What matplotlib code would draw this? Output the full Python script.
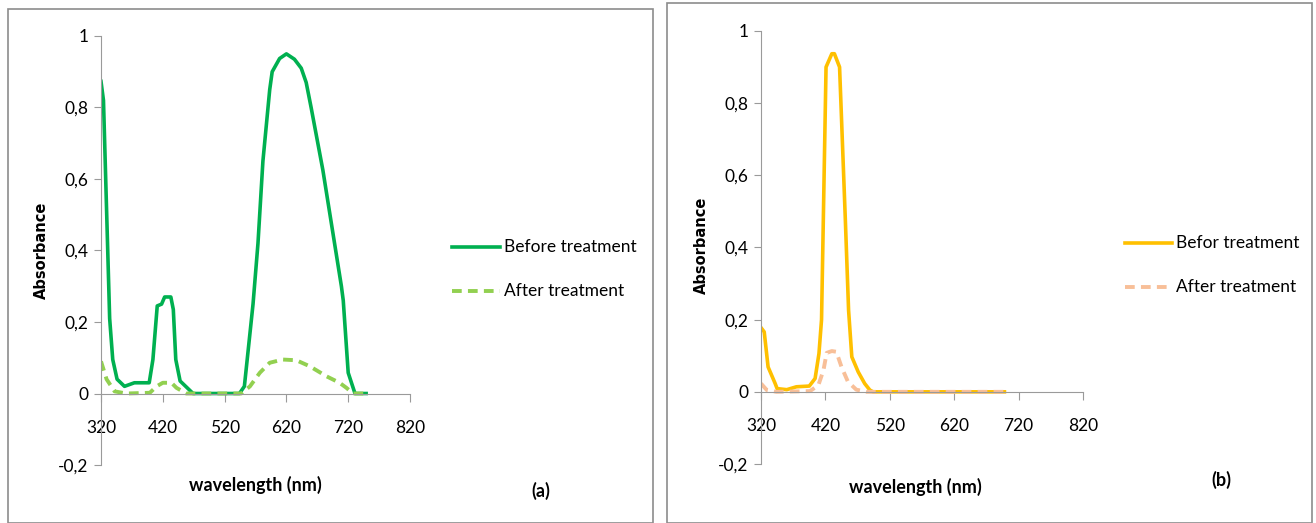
import matplotlib.pyplot as plt
from matplotlib.patches import Rectangle

plt.rcParams['font.family'] = ['Lato', 'DejaVu Sans']

# panel (a)
wl_a_before = [320, 324, 334, 339, 346, 358, 374, 398, 404, 411, 418, 423, 433, 437, 441, 448, 469,
               544, 552, 566, 574, 582, 593, 597, 609, 620, 633, 644, 652, 660, 679, 709, 712, 720, 731, 749]
abs_a_before = [0.873, 0.82, 0.21, 0.095, 0.04, 0.02, 0.03, 0.03, 0.095, 0.245, 0.25, 0.27, 0.27, 0.235, 0.095, 0.035, 0.0,
                0.0, 0.02, 0.25, 0.42, 0.65, 0.85, 0.90, 0.937, 0.95, 0.935, 0.91, 0.87, 0.80, 0.625, 0.30, 0.26, 0.058, 0.0, 0.0]
wl_a_after = [320, 329, 342, 361, 399, 410, 420, 434, 442, 458, 547, 561, 577, 593, 614, 636, 658, 685, 706, 717, 728, 749]
abs_a_after = [0.09, 0.04, 0.006, 0.0, 0.002, 0.02, 0.03, 0.03, 0.016, 0.0, 0.0, 0.02, 0.058, 0.086, 0.095, 0.093,
               0.076, 0.048, 0.03, 0.016, 0.0, 0.0]

# panel (b)
wl_b_before = [320, 325, 331, 342, 345, 360, 375, 395, 404, 410, 414, 421, 430, 434, 442, 451, 456, 461, 471, 481, 489, 494, 698]
abs_b_before = [0.178, 0.166, 0.069, 0.023, 0.009, 0.006, 0.014, 0.016, 0.037, 0.106, 0.2, 0.90, 0.937, 0.937, 0.90,
                0.475, 0.226, 0.097, 0.055, 0.023, 0.005, 0.0, 0.0]
wl_b_after = [320, 329, 344, 396, 409, 417, 422, 430, 437, 445, 455, 468, 484, 698]
abs_b_after = [0.023, 0.005, 0.0, 0.002, 0.018, 0.06, 0.108, 0.113, 0.111, 0.069, 0.028, 0.006, 0.0, 0.0]

xticks = [320, 420, 520, 620, 720, 820]
yticks = [-0.2, 0, 0.2, 0.4, 0.6, 0.8, 1]
ytick_labels = ['-0,2', '0', '0,2', '0,4', '0,6', '0,8', '1']

fig = plt.figure(figsize=(13.16, 5.23), dpi=100)

# panel frames
fig.add_artist(Rectangle((8 / 1316, 0), 645 / 1316, 1 - 9 / 523, transform=fig.transFigure,
                         fill=False, edgecolor='#8c8c8c', lw=1.2))
fig.add_artist(Rectangle((667 / 1316, 0), 645 / 1316, 1 - 3 / 523, transform=fig.transFigure,
                         fill=False, edgecolor='#8c8c8c', lw=1.2))


def style_axes(ax):
    ax.set_xlim(320, 820)
    ax.set_ylim(-0.2, 1)
    for s in ['top', 'right']:
        ax.spines[s].set_visible(False)
    ax.spines['bottom'].set_position(('data', 0))
    ax.spines['left'].set_color('#9a9a9a')
    ax.spines['bottom'].set_color('#9a9a9a')
    ax.set_xticks(xticks)
    ax.set_xticklabels([str(t) for t in xticks], fontsize=12.5)
    ax.set_yticks(yticks)
    ax.set_yticklabels(ytick_labels, fontsize=12.5)
    ax.tick_params(axis='x', direction='out', length=6, color='#9a9a9a', pad=13)
    ax.tick_params(axis='y', direction='out', length=5, color='#9a9a9a', pad=4)
    ax.patch.set_visible(False)


# (a)
ax1 = fig.add_axes([101 / 1316, 1 - 465 / 523, 309 / 1316, 429 / 523])
ax1.plot(wl_a_before, abs_a_before, color='#00B050', lw=2.6, solid_joinstyle='round')
ax1.plot(wl_a_after, abs_a_after, color='#92D050', lw=2.8, dashes=(2.5, 1.6))
style_axes(ax1)
fig.text(41 / 1316, 1 - 250 / 523, 'Absorbance', rotation=90, ha='center', va='center',
         fontsize=10.5, fontweight='bold', family='DejaVu Sans')
fig.text(255 / 1316, 1 - 485 / 523, 'wavelength (nm)', ha='center', va='center', fontsize=13, fontweight='bold')
fig.text(541 / 1316, 1 - 491 / 523, '(a)', ha='center', va='center', fontsize=13, fontweight='bold')
fig.add_artist(plt.Line2D([452 / 1316, 500 / 1316], [1 - 247 / 523] * 2, color='#00B050', lw=2.6))
fig.add_artist(plt.Line2D([452 / 1316, 500 / 1316], [1 - 291 / 523] * 2, color='#92D050', lw=2.8, dashes=(2.5, 1.6)))
fig.text(504 / 1316, 1 - 247 / 523, 'Before treatment', ha='left', va='center', fontsize=12.5)
fig.text(504 / 1316, 1 - 291 / 523, 'After treatment', ha='left', va='center', fontsize=12.5)

# (b)
ax2 = fig.add_axes([761 / 1316, 1 - 464 / 523, 322 / 1316, 433 / 523])
ax2.plot(wl_b_before, abs_b_before, color='#FFC000', lw=2.6, solid_joinstyle='round')
ax2.plot(wl_b_after, abs_b_after, color='#F8BF98', lw=2.8, dashes=(2.5, 1.6))
style_axes(ax2)
fig.text(701 / 1316, 1 - 245 / 523, 'Absorbance', rotation=90, ha='center', va='center',
         fontsize=10.5, fontweight='bold', family='DejaVu Sans')
fig.text(915 / 1316, 1 - 487 / 523, 'wavelength (nm)', ha='center', va='center', fontsize=13, fontweight='bold')
fig.text(1221 / 1316, 1 - 480 / 523, '(b)', ha='center', va='center', fontsize=13, fontweight='bold')
fig.add_artist(plt.Line2D([1125 / 1316, 1172 / 1316], [1 - 243 / 523] * 2, color='#FFC000', lw=2.6))
fig.add_artist(plt.Line2D([1125 / 1316, 1172 / 1316], [1 - 287 / 523] * 2, color='#F8BF98', lw=2.8, dashes=(2.5, 1.6)))
fig.text(1176 / 1316, 1 - 243 / 523, 'Befor treatment', ha='left', va='center', fontsize=12.5)
fig.text(1176 / 1316, 1 - 287 / 523, 'After treatment', ha='left', va='center', fontsize=12.5)

fig.savefig('out.png', dpi=100)
